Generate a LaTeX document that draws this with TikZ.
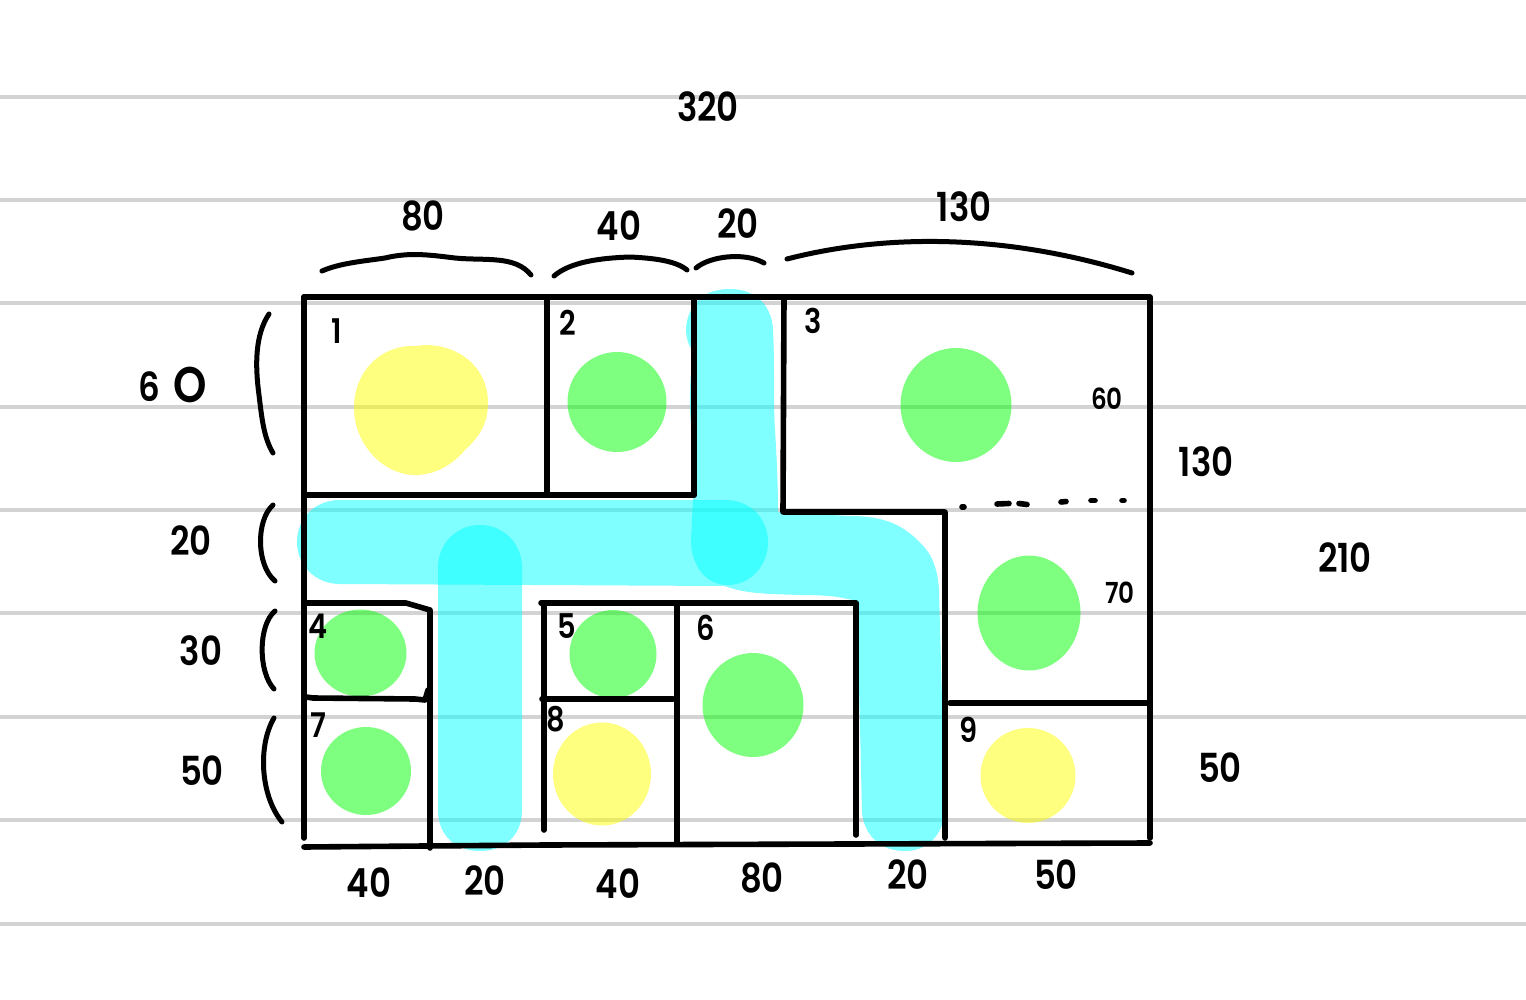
\documentclass[tikz,border=0pt]{standalone}
\usepackage{fontspec}
\setmainfont{Poppins}[BoldFont={Poppins SemiBold},BoldFeatures={FakeStretch=0.85}]
\newcommand{\hw}[1]{\fontsize{#1}{#1}\selectfont\bfseries}
\definecolor{cyanink}{rgb}{0,1,1}
\definecolor{greenink}{rgb}{0,1,0}
\definecolor{yellowink}{rgb}{1,1,0}
\definecolor{rulegrey}{RGB}{211,211,211}
\tikzset{
  ruleline/.style={draw=rulegrey,line width=3.4pt},
  wall/.style={draw=black,line width=5.6pt,line cap=round,line join=round},
  curly/.style={draw=black,line width=5pt,line cap=round,line join=round},
  bluepath/.style={fill=cyanink,fill opacity=.5,draw=none},
  greenblob/.style={fill=greenink,fill opacity=.5,draw=none},
  yellowblob/.style={fill=yellowink,fill opacity=.5,draw=none},
  lbl/.style={inner sep=0pt,outer sep=0pt,text=black,font=\hw{40}},
  lbls/.style={inner sep=0pt,outer sep=0pt,text=black,font=\hw{34}},
  lblt/.style={inner sep=0pt,outer sep=0pt,text=black,font=\hw{29}},
  lblo/.style={inner sep=0pt,outer sep=0pt,text=black,font=\hw{50}},
}
\begin{document}
\begin{tikzpicture}[x=1pt,y=-1pt]
\useasboundingbox (0,0) rectangle (1526,1000);
\fill[white] (0,0) rectangle (1526,1000);
\foreach \yy in {97,200,303,407,510,613,717,820,924}
  \draw[ruleline] (0,\yy) -- (1526,\yy);

% cyan corridors: one T-shaped stroke, the overlap blob, and the second corridor
\fill[bluepath] (730,289) .. controls (755,289) and (772,305) .. (773,330)
  .. controls (775,370) and (773,400) .. (775,430) .. controls (777,460) and (778,490) .. (778,512)
  -- (850,516) .. controls (885,516) and (905,525) .. (925,548)
  .. controls (935,560) and (938,575) .. (939,590)
  -- (945,812) .. controls (942,838) and (925,851) .. (905,851)
  .. controls (880,851) and (864,835) .. (862,812)
  -- (857,601) .. controls (840,597) and (830,595) .. (800,595)
  .. controls (770,594) and (745,594) .. (725,586) -- (340,584)
  .. controls (315,584) and (297,565) .. (297,542)
  .. controls (297,518) and (315,500) .. (340,500) -- (693,500)
  .. controls (693,470) and (692,440) .. (690,410)
  .. controls (689,380) and (693,360) .. (692,350)
  .. controls (685,340) and (684,325) .. (690,312)
  .. controls (697,296) and (712,289) .. (730,289) -- cycle;
\fill[bluepath] (693,500) -- (725,500) .. controls (752,500) and (768,520) .. (768,542)
  .. controls (768,566) and (750,585) .. (728,585)
  .. controls (705,585) and (691,565) .. (691,540) -- cycle;
\fill[bluepath] (480,525) .. controls (505,525) and (522,545) .. (522,567)
  -- (522,810) .. controls (522,835) and (505,851) .. (480,851)
  .. controls (455,851) and (438,835) .. (438,810)
  -- (438,567) .. controls (438,545) and (455,525) .. (480,525) -- cycle;

% rooms' blobs
\fill[yellowblob] (425,345) .. controls (460,345) and (488,368) .. (488,403)
  .. controls (488,425) and (478,438) .. (465,450)
  .. controls (450,468) and (430,476) .. (412,475)
  .. controls (378,472) and (354,440) .. (354,408)
  .. controls (354,372) and (380,345) .. (415,346) -- cycle;
\fill[greenblob] (617,402) ellipse [x radius=49.5,y radius=50];
\fill[greenblob] (956,405) ellipse [x radius=55.5,y radius=57];
\fill[greenblob] (1029,613) ellipse [x radius=51.5,y radius=57.5];
\fill[yellowblob] (1028,775.5) ellipse [x radius=47.5,y radius=47.5];
\fill[greenblob] (360.5,653) ellipse [x radius=46,y radius=43.5];
\fill[greenblob] (366,771) ellipse [x radius=45,y radius=44];
\fill[greenblob] (613,654) ellipse [x radius=43.5,y radius=44];
\fill[yellowblob] (602,774) ellipse [x radius=49,y radius=51.5];
\fill[greenblob] (753,705) ellipse [x radius=50.5,y radius=52];

% walls
\draw[wall] (304,297) -- (1150,297) -- (1150,838);
\draw[wall] (304,297) -- (304,838);
\draw[wall] (304,847) -- (545,845) -- (1150,843);
\draw[wall] (547,297) -- (547,495);
\draw[wall] (304,495) -- (694,495);
\draw[wall] (694,297) -- (694,495);
\draw[wall] (784,297) -- (783,512) -- (945,512) -- (945,838);
\draw[wall] (950,703) -- (1150,703);
\draw[wall] (304,603) -- (406,603) -- (430,610) -- (430,848);
\draw[wall] (306,697) -- (313,698) -- (415,699) -- (425,700) -- (428,690);
\draw[wall] (541,603) -- (856,603) -- (856,835);
\draw[wall] (544,603) -- (544,830);
\draw[wall] (677,603) -- (677,842);
\draw[wall] (542,699) -- (673,699);
\draw[wall] (962,507) -- (964,507);
\draw[wall] (997,504) -- (1009,503.5);
\draw[wall] (1019,503.5) -- (1027,504.5);
\draw[wall] (1061,502) -- (1066,501.5);
\draw[wall] (1091,500.5) -- (1095,500.5);
\draw[wall] (1122,500.5) -- (1124,500.5);

% braces
\draw[curly] (322,271) .. controls (340,263) and (365,261) .. (385,258)
  .. controls (410,252) and (430,255) .. (455,258)
  .. controls (485,261) and (515,255) .. (531,275);
\draw[curly] (554,276) .. controls (570,262) and (600,258) .. (630,257)
  .. controls (650,258) and (675,260) .. (687,270);
\draw[curly] (696,268) .. controls (710,256) and (745,252) .. (764,263);
\draw[curly] (787,259) .. controls (880,235) and (1000,232) .. (1132,273);
\draw[curly] (269,314) .. controls (255,335) and (255,365) .. (259,395)
  .. controls (262,420) and (264,438) .. (273,453);
\draw[curly] (273,505) .. controls (256,520) and (256,565) .. (275,581);
\draw[curly] (275,611) .. controls (258,625) and (258,672) .. (274,689);
\draw[curly] (274,718) .. controls (258,745) and (260,795) .. (282,822);

% labels
\node[lbl] (t320) at (708,107) {320};
\node[lbl] (t80) at (423,216) {80};
\node[lbl] (t40a) at (619,226) {40};
\node[lbl] (t20a) at (738,224) {20};
\node[lbl] (t130a) at (964,207) {130};
\node[lbl] (t6l) at (149,387) {6};
\node[lblo] (t0l) at (190,385) {O};
\node[lbl] (t20l) at (191,541) {20};
\node[lbl] (t30l) at (201,651) {30};
\node[lbl] (t50l) at (202,771) {50};
\node[lbl] (t130r) at (1206,462) {130};
\node[lbl] (t210) at (1345,558) {210};
\node[lbl] (t50r) at (1220,768) {50};
\node[lbl] (t40b) at (369,883) {40};
\node[lbl] (t20b) at (485,881) {20};
\node[lbl] (t40c) at (618,884) {40};
\node[lbl] (t80b) at (762,878) {80};
\node[lbl] (t20c) at (908,875) {20};
\node[lbl] (t50b) at (1056,875) {50};
\node[lblt] (t60i) at (1107,399) {60};
\node[lblt] (t70i) at (1120,593) {70};
\node[lbls] (r1) at (337,331) {1};
\node[lbls] (r2) at (568,323) {2};
\node[lbls] (r3) at (813,321) {3};
\node[lbls] (r4) at (318,626) {4};
\node[lbls] (r5) at (567,626) {5};
\node[lbls] (r6) at (706,628) {6};
\node[lbls] (r7) at (318,725) {7};
\node[lbls] (r8) at (556,719) {8};
\node[lbls] (r9) at (969,730) {9};
\end{tikzpicture}
\end{document}
